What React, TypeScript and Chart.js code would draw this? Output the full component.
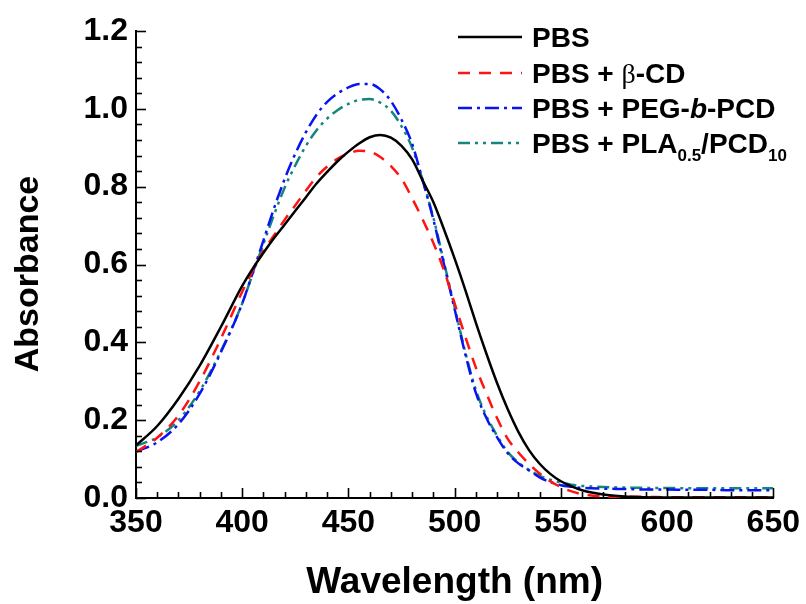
import React, { useEffect, useRef } from 'react';
import { Chart, registerables } from 'chart.js';

Chart.register(...registerables);

// ---------- data ----------
const wavelengths = [
  350, 360, 370, 380, 390, 400, 405, 410, 415, 420, 425, 430, 435, 440, 445, 450,
  455, 460, 465, 470, 475, 480, 485, 490, 495, 500, 505, 510, 515, 520, 525, 530,
  535, 540, 545, 550, 555, 560, 570, 580, 590, 600, 610, 620, 630, 640, 650,
];

const pbs = [
  0.135, 0.185, 0.255, 0.34, 0.44, 0.545, 0.59, 0.63, 0.668, 0.703, 0.738, 0.773, 0.808, 0.838, 0.866, 0.89,
  0.911, 0.927, 0.933, 0.926, 0.905, 0.87, 0.815, 0.76, 0.69, 0.615, 0.535, 0.45, 0.37, 0.295, 0.228, 0.17,
  0.123, 0.088, 0.062, 0.043, 0.03, 0.02, 0.009, 0.004, 0.002, 0.001, 0.001, 0.001, 0.001, 0.001, 0.001,
];

const pbsBetaCD = [
  0.118, 0.155, 0.212, 0.3, 0.41, 0.53, 0.585, 0.635, 0.675, 0.715, 0.752, 0.79, 0.825, 0.852, 0.872, 0.885,
  0.892, 0.89, 0.876, 0.853, 0.82, 0.77, 0.715, 0.655, 0.585, 0.5, 0.415, 0.335, 0.268, 0.205, 0.152, 0.117,
  0.088, 0.063, 0.043, 0.028, 0.017, 0.01, 0.004, 0.003, 0.003, 0.002, 0.002, 0.002, 0.002, 0.002, 0.002,
];

const pbsPegPcd = [
  0.119, 0.143, 0.19, 0.268, 0.375, 0.5, 0.58, 0.662, 0.745, 0.82, 0.885, 0.94, 0.985, 1.018, 1.04, 1.055,
  1.064, 1.064, 1.05, 1.02, 0.972, 0.91, 0.815, 0.715, 0.6, 0.485, 0.37, 0.27, 0.205, 0.156, 0.115, 0.089,
  0.071, 0.053, 0.041, 0.033, 0.029, 0.026, 0.024, 0.023, 0.022, 0.022, 0.021, 0.021, 0.02, 0.02, 0.02,
];

const pbsPlaPcd = [
  0.134, 0.156, 0.2, 0.275, 0.378, 0.5, 0.577, 0.653, 0.728, 0.798, 0.855, 0.905, 0.945, 0.975, 0.997, 1.013,
  1.023, 1.025, 1.016, 0.995, 0.955, 0.9, 0.815, 0.72, 0.605, 0.49, 0.375, 0.277, 0.21, 0.16, 0.118, 0.091,
  0.072, 0.057, 0.047, 0.04, 0.034, 0.031, 0.028, 0.027, 0.026, 0.026, 0.025, 0.025, 0.025, 0.025, 0.025,
];

const seriesNames = ['PBS', 'PBS + β-CD', 'PBS + PEG-b-PCD', 'PBS + PLA0.5/PCD10'];

type Seg = { t: string; sub?: boolean; italic?: boolean; greek?: boolean };
const legendLabels: Seg[][] = [
  [{ t: 'PBS' }],
  [{ t: 'PBS + ' }, { t: 'β', greek: true }, { t: '-CD' }],
  [{ t: 'PBS + PEG-' }, { t: 'b', italic: true }, { t: '-PCD' }],
  [{ t: 'PBS + PLA' }, { t: '0.5', sub: true }, { t: '/PCD' }, { t: '10', sub: true }],
];

const seriesColors = ['#000000', '#ff1414', '#0a14f0', '#14857f'];
const seriesDashes: number[][] = [[], [12, 9], [14, 5, 3, 5], [12, 5, 3, 5, 3, 5]];

const xTitle = 'Wavelength (nm)';
const yTitle = 'Absorbance';

const FONT = '"Liberation Sans", Arial, Helvetica, sans-serif';

// ---------- plugins ----------
const innerTicksPlugin = {
  id: 'innerTicks',
  afterDatasetsDraw(chart: any) {
    const { ctx, chartArea, scales } = chart;
    const xs = scales.x;
    const ys = scales.y;
    ctx.save();
    ctx.strokeStyle = '#000';
    ctx.lineWidth = 1.6;
    for (let v = 350; v <= 650; v += 10) {
      const px = Math.round(xs.getPixelForValue(v)) + 0.5;
      const len = v % 50 === 0 ? 10 : 6;
      ctx.beginPath();
      ctx.moveTo(px, chartArea.bottom);
      ctx.lineTo(px, chartArea.bottom - len);
      ctx.stroke();
    }
    for (let i = 0; i <= 30; i++) {
      const py = Math.round(ys.getPixelForValue(i * 0.04)) + 0.5;
      const len = i % 5 === 0 ? 10 : 6;
      ctx.beginPath();
      ctx.moveTo(chartArea.left, py);
      ctx.lineTo(chartArea.left + len, py);
      ctx.stroke();
    }
    ctx.restore();
  },
};

const yTitlePlugin = {
  id: 'yTitle',
  afterDraw(chart: any) {
    const { ctx } = chart;
    ctx.save();
    ctx.translate(29, 274);
    ctx.rotate(-Math.PI / 2);
    ctx.font = `bold 34px ${FONT}`;
    ctx.fillStyle = '#000';
    ctx.textAlign = 'center';
    ctx.textBaseline = 'middle';
    ctx.fillText(yTitle, 0, 0);
    ctx.restore();
  },
};

const customLegendPlugin = {
  id: 'customLegend',
  afterDraw(chart: any) {
    const { ctx } = chart;
    const x0 = 458;
    const x1 = 522;
    const tx = 532;
    const rowY = [37, 73, 108, 143];
    const mainSize = 28;
    const subSize = 17;
    ctx.save();
    legendLabels.forEach((segs, i) => {
      const y = rowY[i];
      ctx.strokeStyle = seriesColors[i];
      ctx.lineWidth = 2.5;
      ctx.setLineDash(seriesDashes[i]);
      ctx.beginPath();
      ctx.moveTo(x0, y);
      ctx.lineTo(x1, y);
      ctx.stroke();
      ctx.setLineDash([]);
      ctx.fillStyle = '#000';
      ctx.textAlign = 'left';
      ctx.textBaseline = 'alphabetic';
      const base = y + 10;
      let x = tx;
      segs.forEach((s) => {
        if (s.sub) {
          ctx.font = `bold ${subSize}px ${FONT}`;
          ctx.fillText(s.t, x, base + 8);
        } else if (s.italic) {
          ctx.font = `italic bold ${mainSize}px ${FONT}`;
          ctx.fillText(s.t, x, base);
        } else if (s.greek) {
          ctx.font = `${mainSize}px "Liberation Serif", "DejaVu Serif", serif`;
          ctx.fillText(s.t, x, base);
        } else {
          ctx.font = `bold ${mainSize}px ${FONT}`;
          ctx.fillText(s.t, x, base);
        }
        x += ctx.measureText(s.t).width;
      });
    });
    ctx.restore();
  },
};

export default function App() {
  const canvasRef = useRef<HTMLCanvasElement | null>(null);

  useEffect(() => {
    const canvas = canvasRef.current;
    if (!canvas) return;
    const makeData = (arr: number[]) => wavelengths.map((x, i) => ({ x, y: arr[i] }));
    const seriesValues = [pbs, pbsBetaCD, pbsPegPcd, pbsPlaPcd];
    const chart = new Chart(canvas, {
      type: 'line',
      data: {
        datasets: seriesValues.map((arr, i) => ({
          label: seriesNames[i],
          data: makeData(arr),
          borderColor: seriesColors[i],
          backgroundColor: seriesColors[i],
          borderWidth: 2.5,
          borderDash: seriesDashes[i],
          pointRadius: 0,
          fill: false,
          cubicInterpolationMode: 'monotone' as const,
        })),
      },
      options: {
        responsive: false,
        animation: false,
        layout: { padding: { top: 31, right: 32, left: 0, bottom: 0 } },
        plugins: {
          legend: { display: false },
          tooltip: { enabled: false },
        },
        scales: {
          x: {
            type: 'linear',
            min: 350,
            max: 650,
            grid: { display: false, drawTicks: false },
            border: { display: true, color: '#000', width: 2 },
            ticks: {
              stepSize: 50,
              padding: 6,
              color: '#000',
              font: { family: FONT, size: 32, weight: 'bold' },
              callback: (v: any) => String(v),
              maxRotation: 0,
            },
            title: {
              display: true,
              text: xTitle,
              color: '#000',
              font: { family: FONT, size: 37, weight: 'bold', lineHeight: 1.15 },
              padding: { top: 0, bottom: 0 },
            },
            afterFit: (scale: any) => {
              scale.height = 106;
            },
          },
          y: {
            type: 'linear',
            min: 0,
            max: 1.2,
            grid: { display: false, drawTicks: false },
            border: { display: true, color: '#000', width: 2 },
            ticks: {
              stepSize: 0.2,
              padding: 8,
              color: '#000',
              font: { family: FONT, size: 32, weight: 'bold' },
              callback: (v: any) => Number(v).toFixed(1),
            },
            title: { display: false },
            afterFit: (scale: any) => {
              scale.width = 136;
            },
          },
        },
      },
      plugins: [innerTicksPlugin, customLegendPlugin, yTitlePlugin],
    } as any);
    return () => chart.destroy();
  }, []);

  return (
    <div style={{ position: 'absolute', left: 0, top: 0, width: 806, height: 604, background: '#fff' }}>
      <canvas ref={canvasRef} width={806} height={604} style={{ display: 'block' }} />
    </div>
  );
}
